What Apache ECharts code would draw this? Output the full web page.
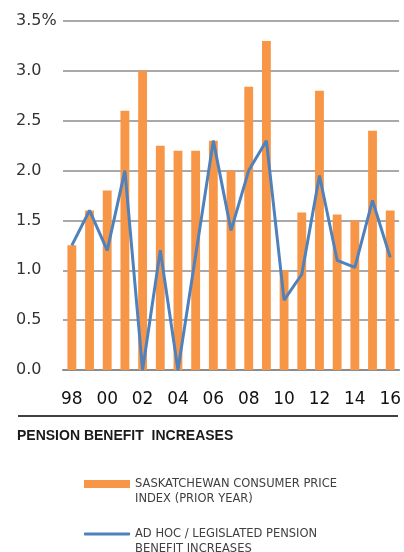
<!DOCTYPE html>
<html><head><meta charset="utf-8">
<script src="https://cdn.jsdelivr.net/npm/echarts@6/dist/echarts.min.js"></script>
<style>html,body{margin:0;padding:0;background:#fff}#c{width:404px;height:552px}</style>
</head><body><div id="c"></div>
<script>
var years = ['98','99','00','01','02','03','04','05','06','07','08','09','10','11','12','13','14','15','16'];
var cpi = [1.25,1.6,1.8,2.6,3.0,2.25,2.2,2.2,2.3,2.0,2.84,3.3,1.0,1.58,2.8,1.56,1.5,2.4,1.6];
var pension = [1.25,1.6,1.2,2.0,0,1.2,0,1.15,2.3,1.4,2.0,2.3,0.7,0.96,1.95,1.1,1.03,1.7,1.13];
var yTicks = ['0.0','0.5','1.0','1.5','2.0','2.5','3.0','3.5%'];
var cpiName = 'SASKATCHEWAN CONSUMER PRICE\nINDEX (PRIOR YEAR)';
var penName = 'AD HOC / LEGISLATED PENSION\nBENEFIT INCREASES';
var legText = {fontFamily:'DejaVu Sans',fontSize:11.5,color:'#404040',lineHeight:15};
var legFmt = function(n){return ' \n'+n;};
var chart = echarts.init(document.getElementById('c'));
chart.setOption({
  animation:false,
  title:{text:'PENSION BENEFIT  INCREASES',left:17,top:429,padding:0,
    textStyle:{fontFamily:'Liberation Sans',fontWeight:'bold',fontSize:14,color:'#1a1a1a'}},
  legend:[
    {orient:'vertical',left:84,top:461.5,padding:0,itemWidth:46,itemHeight:8,formatter:legFmt,
     data:[{name:cpiName,icon:'rect'}],textStyle:legText},
    {orient:'vertical',left:84,top:511.5,padding:0,itemWidth:46,itemHeight:3,formatter:legFmt,
     data:[{name:penName,icon:'roundRect'}],textStyle:legText}
  ],
  grid:{left:63,right:4,top:21,bottom:182},
  xAxis:{type:'category',data:years,
    axisLine:{lineStyle:{color:'#8c8c8c',width:2}},axisTick:{show:false},
    axisLabel:{interval:1,margin:21,fontFamily:'DejaVu Sans',fontSize:17,color:'#111'}},
  yAxis:{type:'value',min:0,max:3.5,interval:0.5,
    axisLine:{show:false},axisTick:{show:false},
    splitLine:{lineStyle:{color:'#8c8c8c',width:1.5}},
    axisLabel:{align:'left',margin:47,fontFamily:'DejaVu Sans',fontSize:16,color:'#333',
      formatter:function(v){return yTicks[Math.round(v*2)];}}},
  graphic:[{type:'line',shape:{x1:18,y1:416,x2:398,y2:416},style:{stroke:'#000',lineWidth:1.5}}],
  series:[
    {name:cpiName,type:'bar',data:cpi,barWidth:'50%',itemStyle:{color:'#F79646'}},
    {name:penName,type:'line',data:pension,symbol:'none',
      lineStyle:{color:'#4F81BD',width:3},itemStyle:{color:'#4F81BD'}}
  ]
});
</script></body></html>
